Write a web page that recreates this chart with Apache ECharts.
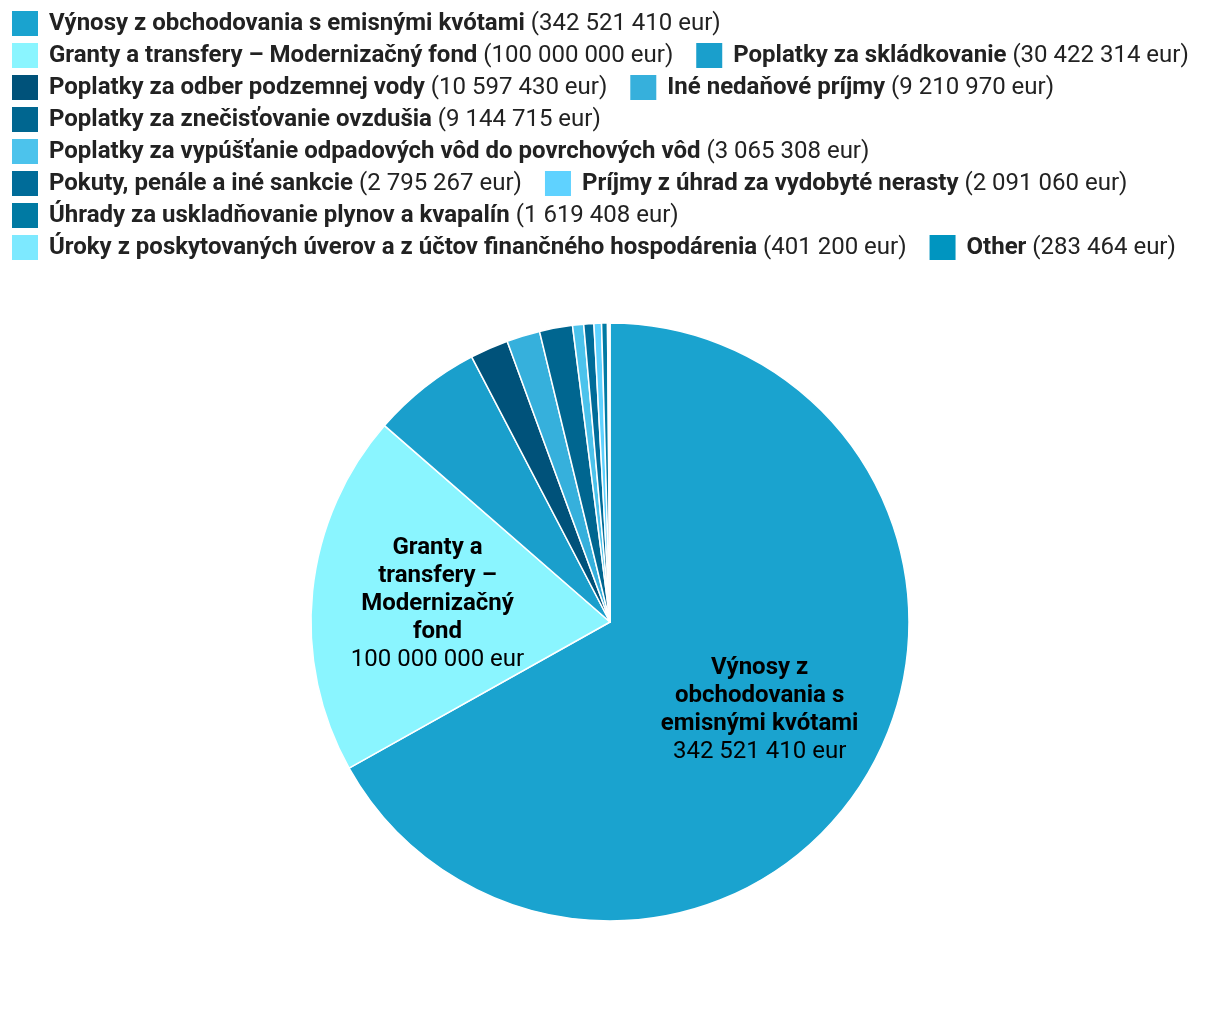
<!DOCTYPE html>
<html>
<head>
<meta charset="utf-8">
<script src="https://cdn.jsdelivr.net/npm/echarts@6/dist/echarts.min.js"></script>
<style>
html,body{margin:0;padding:0;background:#fff;}
#chart{width:1220px;height:1028px;}
</style>
</head>
<body>
<div id="chart"></div>
<script>
const categories = [
  'Výnosy z obchodovania s emisnými kvótami',
  'Granty a transfery – Modernizačný fond',
  'Poplatky za skládkovanie',
  'Poplatky za odber podzemnej vody',
  'Iné nedaňové príjmy',
  'Poplatky za znečisťovanie ovzdušia',
  'Poplatky za vypúšťanie odpadových vôd do povrchových vôd',
  'Pokuty, penále a iné sankcie',
  'Príjmy z úhrad za vydobyté nerasty',
  'Úhrady za uskladňovanie plynov a kvapalín',
  'Úroky z poskytovaných úverov a z účtov finančného hospodárenia',
  'Other'
];
const values = [342521410, 100000000, 30422314, 10597430, 9210970, 9144715, 3065308, 2795267, 2091060, 1619408, 401200, 283464];
const colors = ['#1aa3cf', '#8af5ff', '#1a9fcc', '#00527a', '#36b0dc', '#006690', '#4cc3ec', '#006c99', '#5fd2ff', '#007aa3', '#7de9ff', '#0095c0'];

function fmt(v) {
  return String(v).replace(/\B(?=(\d{3})+(?!\d))/g, ' ') + ' eur';
}

const FONT = 'Roboto';
const FS = 24;
const CX = 610, CY = 622, R = 299;
const labelWidths = [215, 170];

const ctx = document.createElement('canvas').getContext('2d');
ctx.font = 'bold ' + FS + 'px ' + FONT;
function wrap(text, maxW) {
  const words = text.split(' ');
  const lines = [];
  let cur = '';
  words.forEach(w => {
    const t = cur ? cur + ' ' + w : w;
    if (cur && ctx.measureText(t).width > maxW) { lines.push(cur); cur = w; }
    else cur = t;
  });
  if (cur) lines.push(cur);
  return lines;
}

const chart = echarts.init(document.getElementById('chart'));

const pieData = categories.map((c, i) => ({
  name: c, value: values[i], itemStyle: { color: colors[i] }
}));
const labelData = categories.map((c, i) => ({
  name: c, value: values[i],
  label: { show: i < 2 }
}));

chart.setOption({
  animation: false,
  legend: {
    left: 10, top: 9, right: 10,
    padding: 0,
    orient: 'horizontal',
    icon: 'rect',
    itemWidth: 28, itemHeight: 27, itemGap: 3,
    data: categories,
    formatter: function (name) {
      const i = categories.indexOf(name);
      return '{b|' + name + '} {v|(' + fmt(values[i]) + ')}';
    },
    textStyle: {
      fontFamily: FONT, fontSize: FS, color: '#222', lineHeight: 27,
      rich: {
        b: { fontFamily: FONT, fontSize: FS, fontWeight: 'bold', color: '#222', padding: [0, 0, 0, 5], lineHeight: 27 },
        v: { fontFamily: FONT, fontSize: FS, color: '#222', padding: [0, 18, 0, 0], lineHeight: 27 }
      }
    }
  },
  series: [
    {
      type: 'pie',
      center: [CX, CY],
      radius: [0, R],
      startAngle: 90,
      clockwise: true,
      avoidLabelOverlap: false,
      label: { show: false },
      labelLine: { show: false },
      itemStyle: { borderColor: '#fff', borderWidth: 1.5 },
      emphasis: { disabled: true },
      data: pieData
    },
    {
      type: 'pie',
      silent: true,
      center: [CX, CY],
      radius: [0, R * 1.14],
      startAngle: 90,
      clockwise: true,
      avoidLabelOverlap: false,
      itemStyle: { color: 'rgba(0,0,0,0)' },
      labelLine: { show: false },
      emphasis: { disabled: true },
      label: {
        position: 'inside',
        align: 'center',
        formatter: function (p) {
          const lines = wrap(p.name, labelWidths[p.dataIndex] || 200);
          return lines.map(l => '{b|' + l + '}').join('\n') + '\n{v|' + fmt(p.value) + '}';
        },
        rich: {
          b: { fontFamily: FONT, fontSize: FS, fontWeight: 'bold', color: '#000', lineHeight: 28, align: 'center' },
          v: { fontFamily: FONT, fontSize: FS, color: '#000', lineHeight: 28, align: 'center' }
        }
      },
      data: labelData
    }
  ]
});
</script>
</body>
</html>
